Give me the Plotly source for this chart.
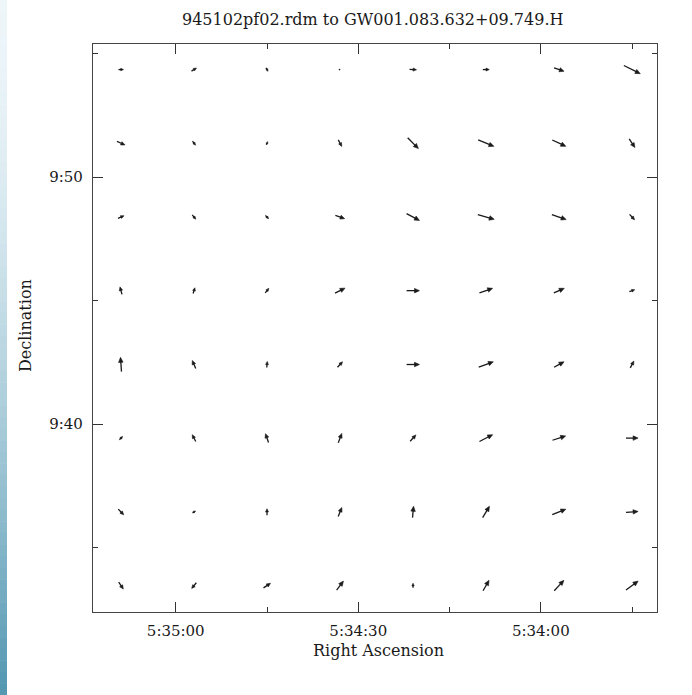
import math
import plotly.graph_objects as go

# ---------------- data ----------------
title_text = "945102pf02.rdm to GW001.083.632+09.749.H"
x_title = "Right Ascension"
y_title = "Declination"

# grid positions: RA in seconds of time (5h34m..), Dec in arcmin above +9 deg
ra_sec = [20109, 20097, 20085, 20073, 20061, 20049, 20037, 20025]
dec_arcmin = [54.35, 51.37, 48.38, 45.40, 42.41, 39.43, 36.44, 33.46]

# vector components (u: towards west / right on plot, v: north), rows from north to south
u_row1 = [5.0, 5.0, 2.0, 0.5, 7.0, 6.5, 10.0, 16.4]
v_row1 = [0.0, 3.0, -3.5, 0.0, -0.5, 0.0, -3.5, -8.2]
u_row2 = [8.0, 3.0, 1.5, 3.5, 10.7, 15.7, 13.6, 5.7]
v_row2 = [-3.5, -4.0, 3.0, -6.5, -10.7, -6.4, -6.4, -8.6]
u_row3 = [6.0, 3.5, 3.2, 9.3, 12.9, 16.4, 14.3, 5.0]
v_row3 = [2.5, -4.3, -3.2, -3.2, -6.8, -4.6, -5.0, -5.4]
u_row4 = [-2.0, 1.8, 3.6, 10.0, 12.9, 13.2, 10.4, 5.4]
v_row4 = [7.5, 5.7, 4.6, 5.0, 0.0, 4.6, 4.6, 1.8]
u_row5 = [-1.0, -3.5, 0.5, 5.0, 12.9, 14.6, 10.0, 3.6]
v_row5 = [14.3, 8.0, 6.0, 5.4, 0.0, 5.4, 5.4, 6.8]
u_row6 = [3.2, -3.5, -3.0, 3.5, 5.7, 13.2, 13.2, 12.1]
v_row6 = [3.2, 6.8, 8.9, 9.3, 6.4, 6.8, 4.3, 0.0]
u_row7 = [5.4, 3.0, 0.0, 3.6, 1.0, 6.8, 13.6, 12.1]
v_row7 = [-5.7, 2.0, 6.4, 8.9, 11.4, 11.4, 5.4, 1.0]
u_row8 = [4.6, -4.6, 7.0, 6.8, 0.0, 6.0, 9.6, 12.1]
v_row8 = [-7.0, -5.7, 4.6, 8.9, 4.6, 10.4, 10.4, 8.9]

U = [u_row1, u_row2, u_row3, u_row4, u_row5, u_row6, u_row7, u_row8]
V = [v_row1, v_row2, v_row3, v_row4, v_row5, v_row6, v_row7, v_row8]

x_tickvals = [20100, 20070, 20040]
x_ticktext = ["5:35:00", "5:34:30", "5:34:00"]
x_minor = [20085, 20055, 20025]
y_tickvals = [40, 50]
y_ticktext = ["9:40", "9:50"]
y_minor = [35, 45, 55]

# ---------------- styling / scales ----------------
W, H = 692, 695
ML, MR, MT, MB = 93, 35, 44, 83
PW, PH = W - ML - MR, H - MT - MB
X_RANGE = [20113.6, 20020.9]
Y_RANGE = [32.39, 55.385]
XPX = PW / (X_RANGE[0] - X_RANGE[1])   # pixels per RA second (rightwards = decreasing RA)
YPX = PH / (Y_RANGE[1] - Y_RANGE[0])   # pixels per arcmin
INK = "#1a1a1a"
FONT = "DejaVu Serif"


def px_x(p):
    return (p - ML) / PW


def px_y(p):
    return (H - MB - p) / PH


def to_data(ra, dec, px_dx, px_dy):
    """offset a data point by a screen-pixel displacement (dy up)"""
    return ra - px_dx / XPX, dec + px_dy / YPX


shaft_x, shaft_y, head_x, head_y = [], [], [], []
for i, dec in enumerate(dec_arcmin):
    for j, ra in enumerate(ra_sec):
        u, v = U[i][j], V[i][j]
        L = math.hypot(u, v)
        if L < 0.3:
            u, v, L = 0.6, 0.0, 0.6
        ex, ey = u / L, v / L
        # arrow centred on grid point
        tx, ty = to_data(ra, dec, -u / 2, -v / 2)
        hx, hy = to_data(ra, dec, u / 2, v / 2)
        hl = min(5.0, 0.35 * L + 1.0)
        hw = 0.45 * hl
        bx, by = u / 2 - ex * hl, v / 2 - ey * hl
        sx, sy = to_data(ra, dec, bx + ex * 0.5, by + ey * 0.5)
        shaft_x += [tx, sx, None]
        shaft_y += [ty, sy, None]
        p1 = to_data(ra, dec, bx - ey * hw, by + ex * hw)
        p2 = to_data(ra, dec, bx + ey * hw, by - ex * hw)
        head_x += [hx, p1[0], p2[0], hx, None]
        head_y += [hy, p1[1], p2[1], hy, None]

fig = go.Figure()
fig.add_trace(go.Scatter(x=shaft_x, y=shaft_y, mode="lines", showlegend=False, hoverinfo="skip",
                         line=dict(color=INK, width=1.3)))
fig.add_trace(go.Scatter(x=head_x, y=head_y, mode="lines", fill="toself", fillcolor=INK,
                         showlegend=False, hoverinfo="skip", line=dict(color=INK, width=0.6)))

annotations = []
annotations.append(dict(text=x_title, x=px_x(378), y=px_y(650), xref="paper", yref="paper",
                        showarrow=False, font=dict(family=FONT, size=16, color=INK),
                        xanchor="center", yanchor="middle"))
annotations.append(dict(text=y_title, x=px_x(25), y=px_y(326), xref="paper", yref="paper",
                        showarrow=False, textangle=-90, font=dict(family=FONT, size=16, color=INK),
                        xanchor="center", yanchor="middle"))
annotations.append(dict(text=title_text, x=px_x(372), y=px_y(19), xref="paper", yref="paper",
                        showarrow=False, font=dict(family=FONT, size=16, color=INK),
                        xanchor="center", yanchor="middle"))

# decorative slide-background gradient on the left edge
shapes = []
n_bands = 60
top_c = (238, 246, 250)
bot_c = (84, 152, 178)
for k in range(n_bands):
    t = k / (n_bands - 1)
    t2 = t ** 1.6
    c = tuple(int(top_c[m] + (bot_c[m] - top_c[m]) * t2) for m in range(3))
    y0 = k * H / n_bands
    y1 = (k + 1) * H / n_bands + 0.5
    shapes.append(dict(type="rect", xref="paper", yref="paper",
                       x0=px_x(0), x1=px_x(7), y0=px_y(y1), y1=px_y(y0),
                       fillcolor="rgb(%d,%d,%d)" % c, line=dict(width=0), layer="below"))

axis_common = dict(showgrid=False, zeroline=False, showline=True, linecolor="#444",
                   linewidth=1.3, mirror="ticks", ticks="inside", ticklen=10, tickwidth=1.2,
                   tickcolor="#333", tickfont=dict(family=FONT, size=15, color=INK))

fig.update_layout(
    width=W, height=H,
    margin=dict(l=ML, r=MR, t=MT, b=MB),
    paper_bgcolor="white", plot_bgcolor="white",
    showlegend=False,
    annotations=annotations,
    shapes=shapes,
    xaxis=dict(range=X_RANGE, tickmode="array", tickvals=x_tickvals, ticktext=x_ticktext,
               ticklabelstandoff=5,
               minor=dict(tickmode="array", tickvals=x_minor, ticks="inside", ticklen=5,
                          tickwidth=1, tickcolor="#333"),
               **axis_common),
    yaxis=dict(range=Y_RANGE, tickmode="array", tickvals=y_tickvals, ticktext=y_ticktext,
               ticklabelstandoff=6,
               minor=dict(tickmode="array", tickvals=y_minor, ticks="inside", ticklen=5,
                          tickwidth=1, tickcolor="#333"),
               **axis_common),
)

fig.write_html("out.html", config={"displayModeBar": False},
               post_script="document.body.style.margin='0px';")
